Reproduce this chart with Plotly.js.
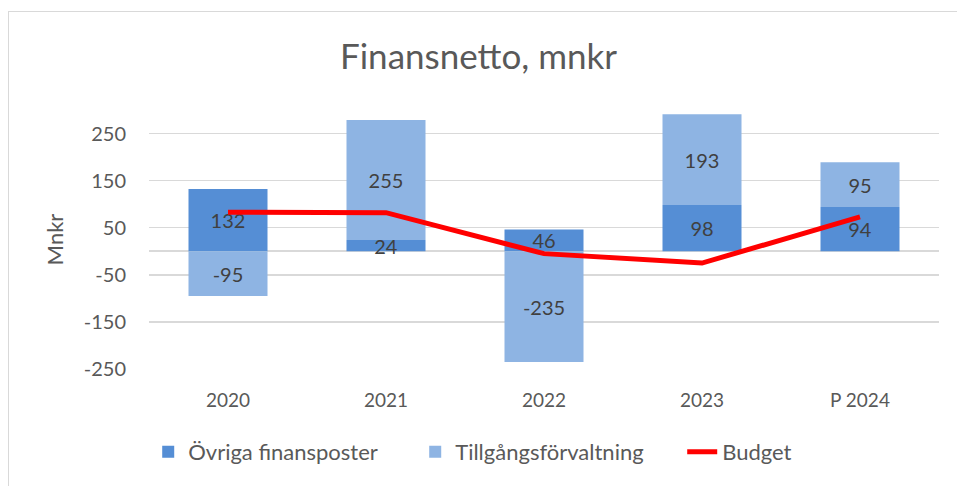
<!DOCTYPE html>
<html>
<head>
<meta charset="utf-8">
<script src="https://cdn.plot.ly/plotly-3.0.1.min.js"></script>
<style>
html,body{margin:0;padding:0;background:#fff;}
#frame{position:absolute;left:8px;top:11px;width:1000px;height:520px;border:1px solid #d9d9d9;box-sizing:border-box;}
#chart{position:absolute;left:0;top:0;width:957px;height:486px;}
</style>
</head>
<body>
<div id="frame"></div>
<div id="chart"></div>
<script>
const categories = ["2020", "2021", "2022", "2023", "P 2024"];
const ovriga = [132, 24, 46, 98, 94];
const tillgang = [-95, 255, -235, 193, 95];
const budget = [83, 82, -5, -25, 73];
const yTicks = [-250, -150, -50, 50, 150, 250];

const font = "Lato, 'Open Sans', sans-serif";
const textColor = "#595959";

const traces = [
  {
    type: "bar", name: "Övriga finansposter", x: categories, y: ovriga,
    marker: {color: "#558ED5"},
    text: ovriga.map(String), textposition: "inside", insidetextanchor: "middle",
    textangle: 0, constraintext: "none", cliponaxis: false,
    textfont: {color: "#404040", size: 20, family: font}
  },
  {
    type: "bar", name: "Tillgångsförvaltning", x: categories, y: tillgang,
    marker: {color: "#8EB4E3"},
    text: tillgang.map(String), textposition: "inside", insidetextanchor: "middle",
    textangle: 0, constraintext: "none",
    textfont: {color: "#404040", size: 20, family: font}
  },
  {
    type: "scatter", mode: "lines", name: "Budget", x: categories, y: budget,
    line: {color: "#FF0000", width: 5}
  }
];

const layout = {
  width: 957, height: 486,
  paper_bgcolor: "rgba(0,0,0,0)", plot_bgcolor: "rgba(0,0,0,0)",
  margin: {l: 149, r: 18, t: 110, b: 117},
  barmode: "relative", bargap: 0.5,
  font: {family: font, color: textColor},
  title: {text: "Finansnetto, mnkr", font: {size: 35, color: textColor, family: font},
          x: 0.5, xref: "container", xanchor: "center", y: 0.883, yref: "container", yanchor: "middle"},
  xaxis: {
    type: "category", tickfont: {size: 19, color: textColor}, showgrid: false,
    showline: false, ticks: "", ticklen: 0, ticklabelstandoff: 18
  },
  yaxis: {
    range: [-250, 300], tickvals: yTicks, ticktext: yTicks.map(String),
    tickfont: {size: 20, color: textColor},
    gridcolor: "#d9d9d9", gridwidth: 1.5,
    zeroline: true, zerolinecolor: "#d9d9d9", zerolinewidth: 2,
    showline: false, ticks: "", ticklabelstandoff: 22,
    title: {text: "Mnkr", font: {size: 22, color: textColor, family: font}, standoff: 14}
  },
  legend: {
    orientation: "h", x: -0.001, xanchor: "left", y: -0.32, yanchor: "middle",
    font: {size: 22, color: textColor, family: font}, traceorder: "normal",
    itemwidth: 30, entrywidth: 222
  },
  showlegend: true
};

Plotly.newPlot("chart", traces, layout, {displayModeBar: false, staticPlot: true});
</script>
</body>
</html>
